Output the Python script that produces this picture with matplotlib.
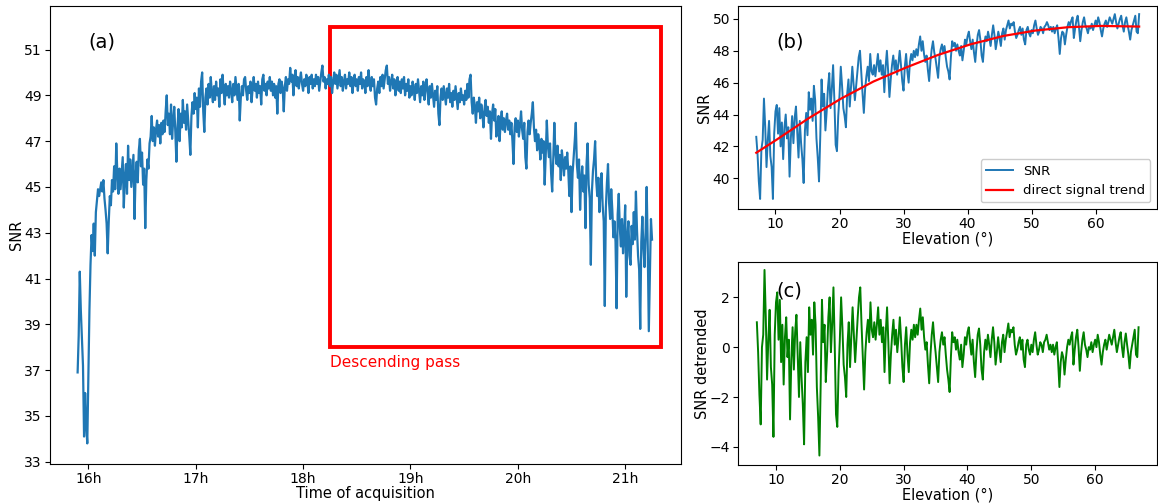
import numpy as np
import matplotlib
matplotlib.use("Agg")
import matplotlib.pyplot as plt
from matplotlib.patches import Rectangle

# -------------------------------------------------
# DATA
# -------------------------------------------------
# (a) SNR vs time of acquisition, one value every 0.01 h starting 15.90 h
T_START = 15.90
T_STEP = 0.01
snr_time = [
    36.9, 38.5, 41.3, 39.6, 38.4, 37.2, 34.1, 36.0, 34.6, 33.8, 36.8, 39.6, 41.6, 42.9, 42.2, 43.4, 42.0, 43.9, 44.4, 44.9,
    44.6, 44.9, 45.2, 44.8, 45.3, 44.5, 44.0, 43.4, 42.1, 43.5, 44.6, 44.2, 45.3, 44.8, 45.9, 44.9, 46.9, 45.6, 44.7, 45.8,
    44.9, 45.6, 46.3, 44.1, 45.4, 46.0, 44.7, 46.8, 45.3, 46.2, 45.0, 45.7, 46.4, 43.6, 45.5, 46.1, 45.2, 46.6, 47.1, 45.9,
    46.5, 45.1, 45.8, 43.2, 45.3, 46.2, 45.8, 46.9, 47.2, 48.1, 47.0, 47.6, 46.8, 47.5, 47.9, 47.2, 47.7, 46.9, 47.8, 47.3,
    47.9, 47.4, 48.3, 49.0, 47.7, 48.2, 47.3, 48.6, 47.1, 47.9, 48.5, 47.4, 46.1, 47.6, 48.4, 47.0, 48.2, 47.6, 48.8, 47.8,
    48.3, 47.5, 48.6, 47.9, 47.2, 46.4, 48.1, 48.7, 48.2, 49.1, 48.4, 48.9, 47.6, 49.3, 48.5, 49.6, 50.0, 48.3, 47.4, 48.9,
    49.3, 48.6, 49.5, 48.9, 49.8, 49.1, 48.7, 49.4, 48.8, 49.6, 49.0, 49.3, 48.5, 49.7, 49.1, 49.9, 49.2, 48.6, 49.5, 49.0,
    49.4, 48.9, 49.6, 49.2, 48.7, 49.5, 49.0, 49.8, 49.3, 48.8, 49.5, 47.9, 48.9, 49.4, 49.0, 49.7, 49.8, 49.2, 48.8, 49.4,
    49.1, 49.6, 48.7, 49.3, 49.8, 49.2, 49.5, 48.9, 49.6, 49.1, 49.4, 48.6, 49.7, 49.9, 49.2, 49.5, 49.0, 49.6, 49.3, 49.8,
    49.2, 49.6, 49.0, 49.5, 48.9, 49.4, 48.2, 49.5, 49.7, 49.1, 49.6, 49.3, 48.3, 49.4, 49.8, 49.2, 49.7, 49.5, 50.2, 49.6,
    49.9, 49.0, 49.8, 50.1, 49.4, 49.8, 49.3, 49.7, 50.0, 49.5, 49.2, 49.7, 49.4, 49.9, 49.6, 49.1, 49.8, 49.5, 49.9, 49.3,
    49.7, 49.4, 49.9, 49.5, 49.8, 49.2, 49.6, 50.0, 50.3, 49.6, 49.8, 49.3, 49.7, 49.5, 49.9, 49.4, 49.8, 49.1, 49.6, 50.0,
    49.5, 49.9, 49.3, 49.7, 50.1, 49.4, 49.8, 49.2, 49.6, 49.9, 49.3, 49.7, 49.5, 50.0, 49.4, 49.8, 49.1, 49.6, 49.9, 49.4,
    49.7, 49.2, 49.8, 49.5, 50.0, 49.3, 49.7, 49.6, 49.1, 49.8, 49.4, 50.1, 49.5, 49.2, 49.8, 49.4, 49.7, 48.9, 48.6, 49.3,
    49.6, 49.1, 49.8, 49.4, 49.9, 49.3, 49.7, 50.1, 50.3, 49.5, 49.8, 49.2, 49.6, 49.9, 49.3, 49.7, 49.0, 49.5, 49.8, 49.2,
    49.6, 49.1, 49.7, 49.3, 49.8, 49.0, 49.5, 49.2, 49.7, 48.9, 49.4, 49.0, 49.6, 49.3, 48.8, 49.5, 49.1, 49.7, 49.2, 48.7,
    49.4, 49.0, 49.6, 48.8, 49.3, 49.7, 49.1, 48.6, 49.4, 48.9, 49.5, 49.0, 48.5, 49.2, 48.8, 49.4, 48.2, 47.7, 48.9, 49.3,
    48.8, 49.4, 49.0, 48.6, 49.3, 48.9, 49.5, 48.7, 49.1, 48.5, 49.2, 48.8, 49.4, 48.9, 48.4, 49.1, 48.7, 49.3, 48.8, 49.0,
    48.6, 49.2, 48.8, 49.5, 48.9, 49.7, 49.9, 48.7, 48.2, 48.9, 48.5, 47.8, 48.7, 48.3, 48.9, 48.0, 48.6, 48.2, 47.6, 48.4,
    48.8, 48.1, 48.5, 47.8, 48.3, 47.1, 48.2, 48.6, 47.9, 48.4, 47.2, 47.6, 48.1, 47.0, 47.8, 48.3, 47.5, 48.0, 47.4, 47.9,
    48.2, 47.5, 47.9, 47.3, 47.8, 47.0, 46.0, 47.6, 48.0, 47.4, 47.9, 47.2, 47.7, 48.3, 47.5, 47.1, 47.8, 46.3, 45.8, 47.4,
    47.9, 47.3, 47.8, 48.2, 48.7, 47.6, 47.0, 47.5, 46.6, 47.3, 46.9, 46.2, 47.1, 46.5, 47.0, 45.1, 46.4, 47.9, 46.8, 46.3,
    46.9, 45.6, 44.8, 46.2, 47.8, 46.5, 46.0, 46.8, 45.9, 46.4, 45.3, 46.6, 46.1, 45.5, 46.3, 45.8, 46.5, 45.7, 44.6, 45.9,
    43.9, 45.6, 46.3, 47.0, 47.8, 46.0, 45.4, 46.2, 44.0, 45.3, 45.9, 44.8, 45.5, 43.2, 46.0, 46.9, 45.1, 44.5, 41.6, 44.8,
    45.7, 46.2, 47.0, 45.3, 44.6, 45.4, 43.9, 44.8, 45.6, 44.2, 43.5, 39.8, 44.1, 45.2, 46.0, 44.3, 43.6, 44.9, 44.0, 42.8,
    43.5, 42.6, 39.7, 43.8, 44.7, 43.2, 42.4, 43.6, 42.1, 43.0, 44.2, 40.2, 42.8, 43.5, 42.0, 41.6, 43.3, 42.5, 43.9, 42.7,
    44.8, 43.1, 42.0, 41.4, 38.8, 42.6, 43.7, 42.3, 41.5, 43.0, 45.0, 42.4, 38.7, 41.2, 43.6, 42.7,
]
hour_ticks = [16, 17, 18, 19, 20, 21]
hour_labels = ["16h", "17h", "18h", "19h", "20h", "21h"]

# descending pass box (hours, SNR)
box_t0, box_t1 = 18.25, 21.33
box_snr0, box_snr1 = 38.0, 52.0

# (b) / (c) descending pass vs elevation, one value every 0.2 deg from 7 deg
E_START = 7.0
E_STEP = 0.2
snr_elev = [
    42.6, 41.5, 39.8, 38.7, 41.8, 42.4, 45.0, 43.2, 40.7, 42.4, 43.6, 41.4, 40.7, 38.7, 42.8, 44.2, 44.6, 42.8, 44.4, 42.0, 43.5, 41.2, 43.2, 44.0, 42.5,
    43.2, 40.1, 42.5, 43.9, 42.2, 43.8, 44.5, 42.9, 41.3, 43.6, 42.2, 41.2, 39.7, 43.0, 44.1, 42.7, 45.4, 44.3, 45.0, 43.6, 45.8, 44.9, 42.5, 41.3, 39.8,
    42.7, 46.2, 44.5, 45.3, 43.0, 44.2, 45.7, 46.6, 44.4, 45.6, 47.1, 44.9, 42.1, 41.7, 43.9, 45.2, 47.0, 45.8, 44.4, 43.9, 43.2, 45.3, 46.2, 44.5, 45.7,
    47.0, 45.9, 44.9, 45.8, 46.7, 47.6, 48.0, 46.6, 45.3, 44.1, 45.6, 46.4, 47.0, 46.1, 47.8, 46.7, 46.5, 47.1, 46.4, 47.1, 47.8, 46.7, 47.4, 46.5, 47.1,
    45.4, 47.0, 48.0, 46.7, 45.1, 46.2, 47.1, 47.7, 46.8, 47.4, 46.5, 47.2, 48.0, 47.1, 46.1, 45.5, 47.0, 47.8, 46.7, 46.0, 47.3, 47.8, 47.4, 48.0, 47.6,
    48.1, 47.7, 48.4, 48.9, 48.0, 48.6, 47.8, 47.3, 47.7, 46.8, 46.1, 47.3, 48.1, 48.6, 47.9, 47.5, 46.9, 46.3, 47.6, 48.1, 48.4, 47.9, 48.3, 47.6, 47.0,
    46.7, 46.2, 47.6, 48.6, 48.3, 48.5, 48.0, 48.4, 48.0, 47.7, 48.3, 47.4, 48.0, 48.7, 48.4, 48.9, 49.2, 48.6, 48.1, 48.7, 47.9, 47.3, 48.3, 49.0, 49.3,
    48.7, 47.7, 47.3, 48.4, 48.9, 48.6, 49.2, 48.8, 48.3, 49.0, 49.6, 49.0, 48.1, 48.6, 49.2, 48.8, 48.3, 49.1, 49.4, 48.7, 49.3, 49.6, 49.9, 49.4, 49.7,
    49.6, 49.8, 49.2, 48.8, 49.0, 49.3, 49.5, 49.0, 49.4, 48.7, 48.4, 49.3, 49.5, 49.1, 48.9, 49.3, 49.1, 49.6, 49.9, 49.4, 49.0, 49.2, 49.5, 49.4, 49.1,
    49.5, 49.6, 49.8, 49.6, 49.3, 49.5, 49.2, 49.5, 49.1, 49.4, 49.6, 48.8, 47.8, 48.8, 49.2, 49.1, 48.4, 49.0, 49.5, 49.8, 49.6, 49.9, 50.1, 48.8, 49.4,
    49.9, 50.2, 49.5, 48.6, 49.3, 49.8, 50.1, 49.6, 49.4, 49.1, 49.5, 49.4, 49.7, 49.3, 49.6, 49.9, 49.6, 50.1, 49.8, 49.3, 48.9, 49.4, 49.7, 49.9, 49.5,
    49.8, 50.1, 49.9, 49.7, 50.0, 50.3, 49.8, 49.4, 49.7, 50.0, 50.2, 49.6, 49.2, 49.8, 50.1, 49.6, 49.2, 48.7, 49.3, 49.6, 49.9, 50.2, 49.2, 49.1, 50.3,
]
snr_detrended = [
    1.0, -0.2, -1.9, -3.1, 0.0, 0.5, 3.1, 1.2, -1.3, 0.3, 1.5, -0.8, -1.5, -3.6, 0.5, 1.8, 2.2, 0.3, 1.9, -0.6, 0.9, -1.5, 0.4, 1.2, -0.4,
    0.3, -2.9, -0.5, 0.8, -0.9, 0.6, 1.3, -0.4, -2.0, 0.2, -1.2, -2.3, -3.9, -0.6, 0.4, -1.0, 1.6, 0.5, 1.1, -0.3, 1.8, 0.9, -1.6, -2.8, -4.35,
    -1.5, 1.9, 0.2, 0.9, -1.4, -0.3, 1.2, 2.0, -0.2, 0.9, 2.4, 0.1, -2.7, -3.2, -1.0, 0.3, 2.0, 0.8, -0.7, -1.2, -2.0, 0.1, 1.0, -0.8, 0.4,
    1.6, 0.5, -0.6, 0.3, 1.2, 2.0, 2.4, 0.9, -0.4, -1.7, -0.2, 0.6, 1.1, 0.2, 1.8, 0.7, 0.4, 1.0, 0.3, 0.9, 1.6, 0.5, 1.1, 0.2, 0.8,
    -1.0, 0.6, 1.6, 0.2, -1.45, -0.3, 0.5, 1.1, 0.1, 0.7, -0.2, 0.4, 1.2, 0.3, -0.8, -1.4, 0.1, 0.8, -0.3, -1.0, 0.2, 0.7, 0.3, 0.9, 0.4,
    0.9, 0.5, 1.1, 1.55, 0.7, 1.2, 0.4, -0.1, 0.2, -0.7, -1.45, -0.3, 0.5, 1.0, 0.3, -0.2, -0.8, -1.4, -0.2, 0.3, 0.6, 0.1, 0.4, -0.3, -0.9,
    -1.3, -1.8, -0.4, 0.6, 0.2, 0.4, -0.1, 0.3, -0.2, -0.5, 0.1, -0.8, -0.3, 0.4, 0.1, 0.6, 0.8, 0.2, -0.3, 0.3, -0.6, -1.2, -0.2, 0.5, 0.75,
    0.1, -0.9, -1.3, -0.2, 0.3, -0.1, 0.5, 0.1, -0.4, 0.3, 0.8, 0.2, -0.7, -0.2, 0.4, -0.1, -0.6, 0.2, 0.5, -0.2, 0.3, 0.6, 0.95, 0.4, 0.7,
    0.6, 0.8, 0.1, -0.3, -0.1, 0.2, 0.4, -0.1, 0.3, -0.5, -0.8, 0.1, 0.3, -0.1, -0.3, 0.1, -0.2, 0.3, 0.6, 0.1, -0.3, -0.1, 0.2, 0.1, -0.2,
    0.2, 0.3, 0.5, 0.2, -0.1, 0.1, -0.2, 0.1, -0.3, 0.0, 0.2, -0.6, -1.6, -0.6, -0.2, -0.4, -1.1, -0.5, 0.0, 0.3, 0.1, 0.4, 0.6, -0.7, -0.1,
    0.4, 0.7, 0.0, -0.95, -0.2, 0.3, 0.6, 0.1, -0.1, -0.4, 0.0, -0.1, 0.2, -0.2, 0.1, 0.3, 0.0, 0.5, 0.2, -0.3, -0.7, -0.2, 0.1, 0.3, -0.1,
    0.2, 0.5, 0.3, 0.1, 0.4, 0.7, 0.2, -0.2, 0.1, 0.4, 0.6, 0.0, -0.4, 0.2, 0.55, 0.1, -0.3, -0.85, -0.2, 0.1, 0.4, 0.7, -0.3, -0.4, 0.8,
]

# red "direct signal trend" curve (elevation, SNR)
trend_elev = [7.0, 10.1, 15.2, 20.25, 25.3, 30.4, 35.4, 40.5, 45.6, 50.6, 55.7, 60.8, 66.8]
trend_snr = [41.6, 42.4, 43.77, 45.0, 46.07, 46.95, 47.74, 48.41, 48.93, 49.27, 49.48, 49.56, 49.52]

# -------------------------------------------------
# PLOT
# -------------------------------------------------
BLUE = "#1f77b4"
t_hours = T_START + T_STEP * np.arange(len(snr_time))
elev_b = E_START + E_STEP * np.arange(len(snr_elev))
elev_c = E_START + E_STEP * np.arange(len(snr_detrended))

fig = plt.figure(figsize=(11.58, 5.03), dpi=100)
ax_a = fig.add_axes([0.0432, 0.0775, 0.5449, 0.9105])
ax_b = fig.add_axes([0.6376, 0.5845, 0.3616, 0.4042])
ax_c = fig.add_axes([0.6376, 0.0755, 0.3616, 0.4042])

# (a)
ax_a.plot(t_hours, snr_time, color=BLUE, lw=1.6)
ax_a.add_patch(Rectangle((box_t0, box_snr0), box_t1 - box_t0, box_snr1 - box_snr0,
                         fill=False, edgecolor="red", lw=2.8))
ax_a.text(box_t0, box_snr0 - 0.35, "Descending pass", color="red", fontsize=11,
          ha="left", va="top")
ax_a.set_xlim(15.643, 21.52)
ax_a.set_ylim(32.9, 52.9)
ax_a.set_yticks(np.arange(33, 52, 2))
ax_a.set_xticks(hour_ticks)
ax_a.set_xticklabels(hour_labels)
ax_a.set_xlabel("Time of acquisition", fontsize=10.5, labelpad=0)
ax_a.set_ylabel("SNR", fontsize=10.5, labelpad=0)
ax_a.text(0.06, 0.921, "(a)", transform=ax_a.transAxes, fontsize=14, va="center")

# (b)
ax_b.plot(elev_b, snr_elev, color=BLUE, lw=1.4, label="SNR")
ax_b.plot(trend_elev, trend_snr, color="red", lw=1.6, label="direct signal trend")
ax_b.set_xlim(4.2, 69.6)
ax_b.set_ylim(38.07, 50.83)
ax_b.set_yticks(np.arange(40, 51, 2))
ax_b.set_xticks([10, 20, 30, 40, 50, 60])
ax_b.set_xlabel("Elevation (°)", fontsize=10.5, labelpad=0)
ax_b.set_ylabel("SNR", fontsize=10.5, labelpad=0)
ax_b.text(0.09, 0.82, "(b)", transform=ax_b.transAxes, fontsize=14, va="center")
ax_b.legend(loc="lower right", fontsize=9.5, framealpha=1)

# (c)
ax_c.plot(elev_c, snr_detrended, color="green", lw=1.4)
ax_c.set_xlim(4.1, 69.7)
ax_c.set_ylim(-4.73, 3.43)
ax_c.set_yticks([-4, -2, 0, 2])
ax_c.set_xticks([10, 20, 30, 40, 50, 60])
ax_c.set_xlabel("Elevation (°)", fontsize=10.5, labelpad=0)
ax_c.set_ylabel("SNR detrended", fontsize=10.5, labelpad=0)
ax_c.text(0.09, 0.857, "(c)", transform=ax_c.transAxes, fontsize=14, va="center")

for ax in (ax_a, ax_b, ax_c):
    ax.tick_params(labelsize=10, pad=2.5)

fig.savefig("out.png", dpi=100)
